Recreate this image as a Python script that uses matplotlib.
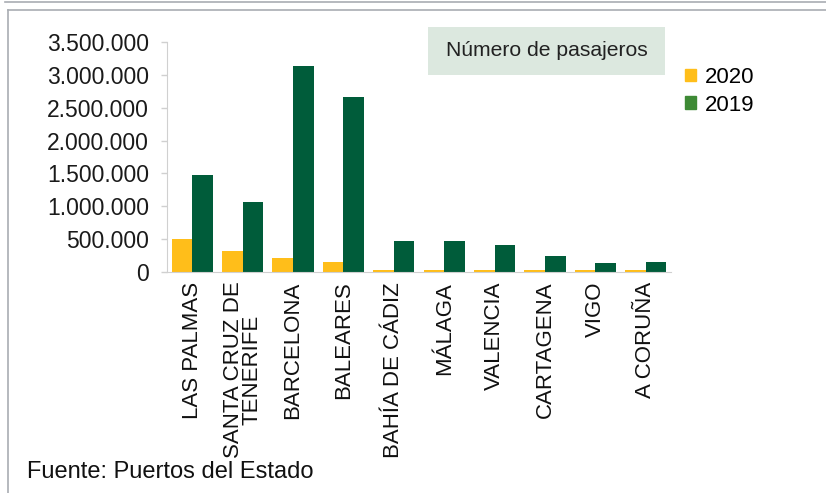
import matplotlib
matplotlib.use("Agg")
import matplotlib.pyplot as plt
import matplotlib.ticker as mticker
from matplotlib.patches import Patch, Rectangle
from matplotlib.lines import Line2D
import numpy as np

# puertos y pasajeros
ports = ["LAS PALMAS", "SANTA CRUZ DE\nTENERIFE", "BARCELONA", "BALEARES",
         "BAHÍA DE CÁDIZ", "MÁLAGA", "VALENCIA", "CARTAGENA", "VIGO", "A CORUÑA"]
pax_2020 = [500000, 325000, 212000, 152000, 30000, 30000, 30000, 30000, 30000, 30000]
pax_2019 = [1475000, 1065000, 3140000, 2670000, 478000, 478000, 415000, 248000, 132000, 158000]
yticks = [0, 500000, 1000000, 1500000, 2000000, 2500000, 3000000, 3500000]

YELLOW = "#FFBE1A"
GREEN = "#005C3A"
GREEN_LEG = "#3E8A35"

plt.rcParams['font.family'] = ['Liberation Sans', 'DejaVu Sans']

W, H = 826, 493
fig = plt.figure(figsize=(W / 100, H / 100), dpi=100)

# marco gris de fondo
frame = "#A9ADB3"
fig.add_artist(Line2D([5 / W, 1], [1 - 1.5 / H, 1 - 1.5 / H], color=frame, lw=1.2))
fig.add_artist(Line2D([8 / W, 1], [1 - 10 / H, 1 - 10 / H], color=frame, lw=1.2))
fig.add_artist(Line2D([8 / W, 8 / W], [0, 1 - 10 / H], color=frame, lw=1.2))

ax = fig.add_axes([167 / W, 1 - 272 / H, 504 / W, 230 / H])

x = np.arange(len(ports))
bw = 0.41
ax.bar(x - bw / 2, pax_2020, bw, color=YELLOW, label="2020")
ax.bar(x + bw / 2, pax_2019, bw, color=GREEN, label="2019")

ax.set_xlim(-0.5, len(ports) - 0.5)
ax.set_ylim(0, 3500000)
ax.set_yticks(yticks)
ax.yaxis.set_major_formatter(
    mticker.FuncFormatter(lambda v, p: f"{int(v):,}".replace(",", ".")))
ax.tick_params(axis='y', labelsize=16.5, colors="#D0D0D0", labelcolor="#1A1A1A",
               length=4, width=1, pad=9)
ax.set_xticks(x)
ax.set_xticklabels(ports, rotation=90, fontsize=16, color="#111111",
                   linespacing=0.85)
ax.tick_params(axis='x', length=0, pad=7)

for s in ["top", "right"]:
    ax.spines[s].set_visible(False)
ax.spines["left"].set_color("#D0D0D0")
ax.spines["bottom"].set_color("#D0D0D0")

# recuadro del titulo
fig.add_artist(Rectangle((428 / W, 1 - 75 / H), 237 / W, 48 / H,
                         transform=fig.transFigure, facecolor="#DCE8DF",
                         edgecolor="none"))
fig.text(547 / W, 1 - 51 / H, "Número de pasajeros", fontsize=15.2,
         ha="center", va="center", color="#222222")

handles = [Patch(color=YELLOW, label="2020"), Patch(color=GREEN_LEG, label="2019")]
fig.legend(handles=handles, loc="upper left", bbox_to_anchor=(676 / W, 1 - 58 / H),
           frameon=False, fontsize=16, handlelength=0.5, handleheight=0.5,
           handletextpad=0.4, labelspacing=0.3, borderaxespad=0)

fig.text(27 / W, 1 - 472 / H, "Fuente: Puertos del Estado", fontsize=17,
         ha="left", va="center", color="#111111")

fig.savefig("out.png", dpi=100)
